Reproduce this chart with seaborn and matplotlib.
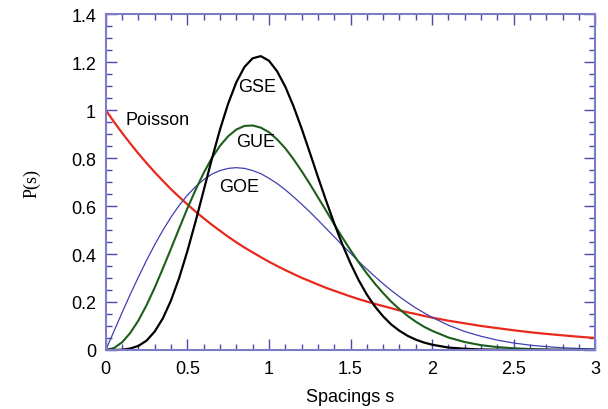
import numpy as np
import pandas as pd
import matplotlib
matplotlib.use("Agg")
import matplotlib.pyplot as plt
import seaborn as sns
from matplotlib.ticker import MultipleLocator, FormatStrFormatter

# level spacing distributions
s = [0.0, 0.05, 0.1, 0.15, 0.2, 0.25, 0.3, 0.35, 0.4, 0.45,
     0.5, 0.55, 0.6, 0.65, 0.7, 0.75, 0.8, 0.85, 0.9, 0.95,
     1.0, 1.05, 1.1, 1.15, 1.2, 1.25, 1.3, 1.35, 1.4, 1.45,
     1.5, 1.55, 1.6, 1.65, 1.7, 1.75, 1.8, 1.85, 1.9, 1.95,
     2.0, 2.1, 2.2, 2.3, 2.4, 2.5, 2.6, 2.7, 2.8, 2.9, 3.0]

poisson = [1.0, 0.951, 0.905, 0.861, 0.819, 0.779, 0.741, 0.705, 0.670, 0.638,
           0.607, 0.577, 0.549, 0.522, 0.497, 0.472, 0.449, 0.427, 0.407, 0.387,
           0.368, 0.350, 0.333, 0.317, 0.301, 0.287, 0.273, 0.259, 0.247, 0.235,
           0.223, 0.212, 0.202, 0.192, 0.183, 0.174, 0.165, 0.157, 0.150, 0.142,
           0.135, 0.122, 0.111, 0.100, 0.091, 0.082, 0.074, 0.067, 0.061, 0.055, 0.050]

goe = [0.0, 0.078, 0.156, 0.232, 0.304, 0.374, 0.439, 0.499, 0.554, 0.603,
       0.645, 0.681, 0.710, 0.733, 0.748, 0.757, 0.760, 0.757, 0.748, 0.735,
       0.716, 0.694, 0.668, 0.639, 0.608, 0.576, 0.542, 0.507, 0.472, 0.437,
       0.403, 0.369, 0.337, 0.306, 0.276, 0.248, 0.222, 0.198, 0.175, 0.155,
       0.136, 0.103, 0.077, 0.057, 0.041, 0.029, 0.020, 0.014, 0.009, 0.006, 0.004]

gue = [0.0, 0.008, 0.032, 0.071, 0.123, 0.187, 0.260, 0.340, 0.423, 0.507,
       0.590, 0.667, 0.738, 0.800, 0.851, 0.891, 0.919, 0.934, 0.936, 0.927,
       0.908, 0.878, 0.841, 0.796, 0.746, 0.693, 0.637, 0.581, 0.524, 0.469,
       0.416, 0.366, 0.319, 0.276, 0.237, 0.201, 0.170, 0.142, 0.118, 0.097,
       0.080, 0.052, 0.033, 0.020, 0.012, 0.007, 0.004, 0.002, 0.001, 0.001, 0.0]

gse = [0.0, 0.0001, 0.001, 0.006, 0.017, 0.039, 0.077, 0.132, 0.207, 0.301,
       0.412, 0.535, 0.665, 0.796, 0.919, 1.027, 1.116, 1.180, 1.216, 1.225,
       1.206, 1.162, 1.098, 1.017, 0.924, 0.824, 0.722, 0.623, 0.528, 0.440,
       0.361, 0.291, 0.231, 0.181, 0.140, 0.106, 0.080, 0.059, 0.043, 0.031,
       0.022, 0.010, 0.005, 0.002, 0.001, 0.0, 0.0, 0.0, 0.0, 0.0, 0.0]

df = pd.DataFrame({"s": s, "Poisson": poisson, "GOE": goe, "GUE": gue, "GSE": gse})

sns.set_style("ticks")
plt.rcParams["font.family"] = ["Liberation Sans", "DejaVu Sans"]
plt.rcParams["text.color"] = "black"
plt.rcParams["axes.labelcolor"] = "black"
plt.rcParams["xtick.labelcolor"] = "black"
plt.rcParams["ytick.labelcolor"] = "black"

fig = plt.figure(figsize=(6.08, 4.1), dpi=100)
ax = fig.add_axes([0.174, 0.144, 0.805, 0.819])

sns.lineplot(data=df, x="s", y="Poisson", color="#e8291c", lw=1.6, ax=ax)
sns.lineplot(data=df, x="s", y="GOE", color="#4040b0", lw=0.9, ax=ax)
sns.lineplot(data=df, x="s", y="GUE", color="#1d5e1d", lw=1.5, ax=ax)
sns.lineplot(data=df, x="s", y="GSE", color="black", lw=1.6, ax=ax)

ax.text(0.12, 0.96, "Poisson", fontsize=13, va="center")
ax.text(0.93, 1.10, "GSE", fontsize=13, ha="center", va="center")
ax.text(0.92, 0.87, "GUE", fontsize=13, ha="center", va="center")
ax.text(0.82, 0.68, "GOE", fontsize=13, ha="center", va="center")

ax.set_xlim(0, 3)
ax.set_ylim(0, 1.4)
ax.xaxis.set_major_locator(MultipleLocator(0.5))
ax.xaxis.set_minor_locator(MultipleLocator(0.1))
ax.yaxis.set_major_locator(MultipleLocator(0.2))
ax.yaxis.set_minor_locator(MultipleLocator(0.05))
ax.xaxis.set_major_formatter(FormatStrFormatter("%g"))
ax.yaxis.set_major_formatter(FormatStrFormatter("%g"))

frame = "#7c7cc8"
for sp in ax.spines.values():
    sp.set_color(frame)
    sp.set_linewidth(1.5)
ax.tick_params(which="both", direction="in", top=True, right=True,
               color="#4a4aa8", labelsize=13, pad=7, labelcolor="black")
ax.tick_params(which="major", length=8, width=1)
ax.tick_params(which="minor", length=4, width=1)

ax.set_xlabel("Spacings s", fontsize=13, labelpad=8)
ax.set_ylabel("P(s)", fontsize=13, family=["Liberation Serif"], labelpad=22)

fig.savefig("out.png", dpi=100)
